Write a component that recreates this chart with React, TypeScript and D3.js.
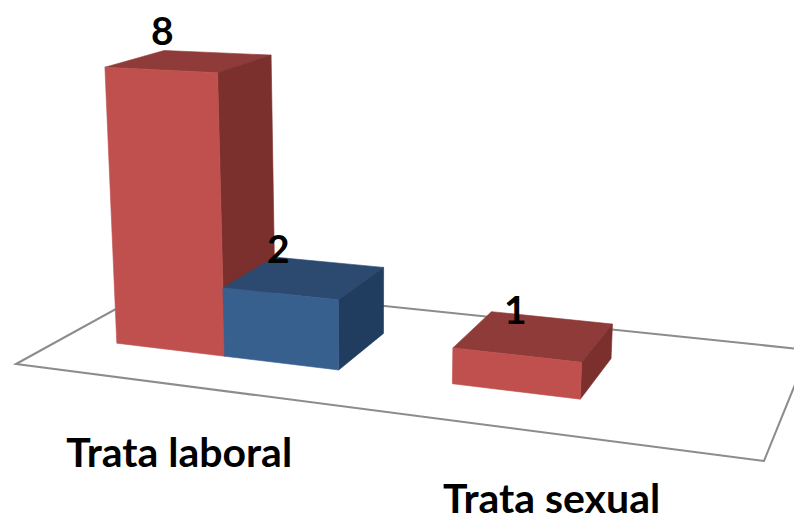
import * as d3 from 'd3';
import React from 'react';

const categories = ['Trata laboral', 'Trata sexual'];
const seriesNames = ['A', 'B'];
const seriesA = [8, 1];
const seriesB = [2, null];

const width = 794;
const height = 517;

// floor corners on screen: front-left, front-right, back-right, back-left
const floorQuad = [[16, 364], [764, 461], [809, 350], [163, 283]];
// vanishing point of the vertical edges
const vanish = [370, 6219];

const colors = {
  A: { front: '#C0504D', top: '#8E3B39', side: '#7B302E' },
  B: { front: '#37608F', top: '#2C4970', side: '#203C5E' },
};

function floorMatrix(q: number[][]) {
  const [[x0, y0], [x1, y1], [x2, y2], [x3, y3]] = q;
  const dx1 = x1 - x2, dx2 = x3 - x2, sx = x0 - x1 + x2 - x3;
  const dy1 = y1 - y2, dy2 = y3 - y2, sy = y0 - y1 + y2 - y3;
  const den = dx1 * dy2 - dx2 * dy1;
  const g = (sx * dy2 - dx2 * sy) / den;
  const h = (dx1 * sy - sx * dy1) / den;
  return {
    a: x1 - x0 + g * x1, b: x3 - x0 + h * x3, c: x0,
    d: y1 - y0 + g * y1, e: y3 - y0 + h * y3, f: y0,
    g, h,
  };
}

const m = floorMatrix(floorQuad);

// t is the height after going through heightScale
function project(u: number, v: number, t: number): [number, number] {
  const w = m.g * u + m.h * v + 1;
  const X = m.a * u + m.b * v + m.c;
  const Y = m.d * u + m.e * v + m.f;
  return [(X - t * vanish[0]) / (w - t), (Y - t * vanish[1]) / (w - t)];
}

const catScale = d3.scaleBand<string>().domain(categories).range([0.005, 1.005]).paddingInner(0.32).paddingOuter(0.16);
const seriesScale = d3.scaleBand<string>().domain(seriesNames).range([0, catScale.bandwidth()]);
const depthScale = d3.scaleLinear().domain([0, 1]).range([0.3, 0.7]);
const heightScale = d3.scaleLinear().domain([0, 8]).range([0, 0.0465]);
const poly = d3.line();

// small nudges for the labels, Excel put them a bit off the bars
const labelNudge = [[-2, -5], [4, 6], [24, 12]];
const catNudge = [[50, 45], [30, 36]];

type Bar = { cat: string; series: 'A' | 'B'; value: number };

const bars: Bar[] = [];
categories.forEach((cat, i) => {
  bars.push({ cat, series: 'A', value: seriesA[i] });
  const b = seriesB[i];
  if (b != null) bars.push({ cat, series: 'B', value: b });
});
// drawing order, so blue sits over the side of the tall red bar
bars.sort((p, q) => (catScale(p.cat)! + seriesScale(p.series)!) - (catScale(q.cat)! + seriesScale(q.series)!));

function Box({ bar, nudge }: { bar: Bar; nudge: number[] }) {
  const u0 = catScale(bar.cat)! + seriesScale(bar.series)!;
  const u1 = u0 + seriesScale.bandwidth();
  const v0 = depthScale(0), v1 = depthScale(1);
  const t = heightScale(bar.value);
  const c = colors[bar.series];
  const labelPos = project(u0, v1, t);
  return (
    <g strokeWidth={0.6} strokeLinejoin="round">
      <path d={poly([project(u0, v0, t), project(u1, v0, t), project(u1, v1, t), project(u0, v1, t)])! + 'Z'} fill={c.top} stroke={c.top} />
      <path d={poly([project(u1, v0, 0), project(u1, v1, 0), project(u1, v1, t), project(u1, v0, t)])! + 'Z'} fill={c.side} stroke={c.side} />
      <path d={poly([project(u0, v0, 0), project(u1, v0, 0), project(u1, v0, t), project(u0, v0, t)])! + 'Z'} fill={c.front} stroke={c.front} />
      <text x={labelPos[0] + nudge[0]} y={labelPos[1] + nudge[1]} textAnchor="middle" fontSize={39} fontWeight={700} stroke="none">
        {bar.value}
      </text>
    </g>
  );
}

export default function App() {
  const floor = floorQuad.map((p) => p as [number, number]);
  return (
    <svg width={width} height={height} style={{ position: 'fixed', left: 0, top: 0, background: '#fff', fontFamily: 'Lato, sans-serif' }}>
      <path d={poly(floor)! + 'Z'} fill="#fff" stroke="#8C8C8C" strokeWidth={2} />
      {bars.map((b, i) => <Box key={i} bar={b} nudge={labelNudge[i]} />)}
      {categories.map((c, i) => {
        const u = catScale(c)! + catScale.bandwidth() / 2;
        const p = project(u, -0.33, 0);
        return (
          <text key={c} x={p[0] + catNudge[i][0]} y={p[1] + catNudge[i][1]} textAnchor="middle" fontSize={41} fontWeight={700}>
            {c}
          </text>
        );
      })}
    </svg>
  );
}
